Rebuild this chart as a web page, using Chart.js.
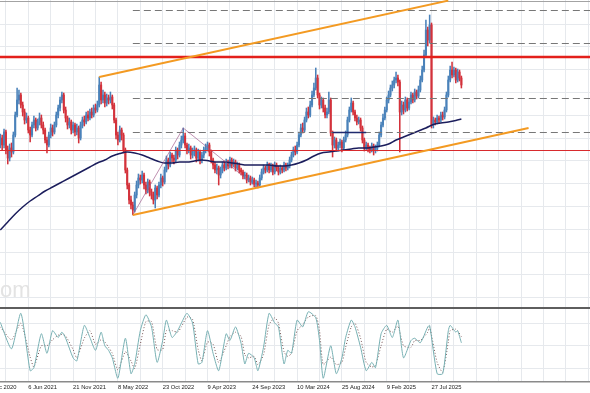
<!DOCTYPE html>
<html>
<head>
<meta charset="utf-8">
<script src="https://cdn.jsdelivr.net/npm/chart.js@4.4.1/dist/chart.umd.min.js"></script>
<style>
  html, body { margin: 0; padding: 0; background: #fff; }
  #wrap { position: relative; width: 590px; height: 393px; overflow: hidden; }
  canvas { position: absolute; left: 0; }
  #priceChart { top: 0; }
  #oscChart { top: 305px; }
</style>
</head>
<body>
<div id="wrap">
  <canvas id="priceChart" width="590" height="308"></canvas>
  <canvas id="oscChart" width="590" height="88"></canvas>
</div>
<script>
// weekly candles, week 0 = first candle, one label every 24 weeks
const dateLabels = ['20 Dec 2020', '6 Jun 2021', '21 Nov 2021', '8 May 2022', '23 Oct 2022', '9 Apr 2023',
   '24 Sep 2023', '10 Mar 2024', '25 Aug 2024', '9 Feb 2025', '27 Jul 2025'];
const firstLabelWeek = -9;

const opens = [
   165,170,163,176,158,150,160,156,173,193, 208,213,203,196,188,190,178,173,183,188,
   180,186,190,183,178,168,163,173,180,176, 183,193,200,208,213,198,190,183,186,178,
   183,176,180,170,183,188,186,193,190,196, 193,200,198,203,223,208,213,205,210,208,
   211,203,188,173,168,178,173,158,138,123, 108,103,98,113,123,130,128,133,123,118,
   126,116,113,108,120,113,123,130,126,138, 148,143,153,150,148,158,153,163,168,172,
   163,158,160,153,156,158,150,156,148,153, 158,160,163,156,148,143,138,140,133,138,
   143,140,146,142,148,143,146,140,143,138, 136,132,133,128,130,126,128,124,125,123,
   130,136,140,138,143,138,142,136,143,140, 136,140,138,143,140,142,148,153,158,156,
   163,173,180,178,188,196,193,203,213,220, 230,213,203,208,200,193,196,208,175,163,
   168,160,163,166,160,168,173,188,198,205, 196,190,186,188,180,168,160,163,160,158,
   162,158,160,163,173,183,190,198,208,213, 220,223,228,230,226,196,203,198,208,200,
   206,213,208,216,212,218,228,238,253,278, 268,283,183,188,186,190,188,193,191,198,
   213,228,238,233,238,228,236,230
];
const highs = [
   174,173,179,178,162,164,165,176,196,220, 218,215,206,199,195,192,181,186,192,190,
   189,195,193,186,180,171,176,184,183,186, 196,203,211,216,215,201,192,190,188,186,
   185,184,182,186,191,192,196,197,199,200, 203,204,207,231,226,218,216,214,213,216,
   213,205,190,176,182,180,175,160,140,125, 112,106,116,127,134,133,137,135,126,129,
   128,119,116,123,122,126,134,132,141,152, 150,156,155,153,161,160,166,172,180,175,
   165,164,162,160,162,160,159,158,156,161, 164,166,165,158,150,146,144,142,141,146,
   147,149,148,151,150,149,148,146,145,140, 138,136,135,133,132,131,130,128,127,133,
   139,143,142,146,145,145,144,146,145,142, 143,142,146,145,145,151,156,161,162,166,
   176,184,185,191,200,201,207,217,225,240, 233,215,211,210,203,200,216,210,177,171,
   170,166,169,168,171,177,191,201,210,207, 198,193,191,190,182,170,166,165,162,165,
   164,163,166,176,186,194,201,211,217,223, 227,231,236,233,228,207,206,211,210,209,
   216,215,219,218,222,232,242,258,288,281, 293,285,191,190,193,192,196,196,201,216,
   232,242,246,241,240,239,238,232
];
const lows = [
   160,158,160,154,144,147,151,154,171,191, 204,200,192,184,185,175,166,171,180,177,
   178,183,180,174,165,155,161,170,172,174, 181,190,197,205,195,186,179,180,174,175,
   172,173,165,168,180,182,184,187,188,190, 191,195,196,201,204,205,201,202,204,205,
   199,185,169,163,166,168,155,135,119,104, 99,93,96,110,120,124,125,119,114,115,
   112,109,104,100,109,111,120,122,124,136, 139,141,146,144,146,149,151,160,165,160,
   154,155,149,150,152,146,147,144,145,150, 155,157,152,145,139,135,134,123,130,135,
   137,138,139,140,140,141,137,138,135,133, 129,129,125,126,123,124,121,121,120,121,
   128,134,135,136,135,136,133,134,137,133, 134,135,136,137,138,140,146,151,153,154,
   161,171,175,176,186,190,191,201,211,218, 210,199,200,196,190,190,194,172,151,160,
   157,157,160,156,158,166,171,186,196,193, 187,183,184,177,165,157,158,156,155,156,
   153,155,157,161,171,181,188,196,205,211, 217,220,225,222,156,193,194,196,197,198,
   204,205,206,209,210,216,226,236,251,262, 265,180,180,183,184,185,186,188,189,196,
   211,226,230,231,225,226,227,220
];
const closes = [
   170,163,176,158,150,160,156,173,193,208, 213,203,196,188,190,178,173,183,188,180,
   186,190,183,178,168,163,173,180,176,183, 193,200,208,213,198,190,183,186,178,183,
   176,180,170,183,188,186,193,190,196,193, 200,198,203,223,208,213,205,210,208,211,
   203,188,173,168,178,173,158,138,123,108, 103,98,113,123,130,128,133,123,118,126,
   116,113,108,120,113,123,130,126,138,148, 143,153,150,148,158,153,163,168,172,163,
   158,160,153,156,158,150,156,148,153,158, 160,163,156,148,143,138,140,133,138,143,
   140,146,142,148,143,146,140,143,138,136, 132,133,128,130,126,128,124,125,123,130,
   136,140,138,143,138,142,136,143,140,136, 140,138,143,140,142,148,153,158,156,163,
   173,180,178,188,196,193,203,213,220,230, 213,203,208,200,193,196,208,175,163,168,
   160,163,166,160,168,173,188,198,205,196, 190,186,188,180,168,160,163,160,158,162,
   158,160,163,173,183,190,198,208,213,220, 223,228,230,226,196,203,198,208,200,206,
   213,208,216,212,218,228,238,253,278,268, 283,183,188,186,190,188,193,191,198,213,
   228,238,233,238,228,236,230,223
];

// moving average
const maWeeks = [0,4,8,12,16,20,24,28,32,36,40,44,48,52,56,60,64,68,72,76,80,84,88,92,96,100,
   104,108,112,116,120,124,128,132,136,140,144,148,152,156,160,164,168,172,176,180,184,188,192,
   196,200,204,208,212,216,220,224,228,232,236,240,244,247];
const maValues = [78,86,94,101,107,112,117,121,125,129,133,137,141,145,148,152,154.5,156,155,153,
   150,147,145,145,146,146,147,148,147,146,146,145,144,143,143,143,143,142,142,143,145,148,152,
   155,156,157,158,159,160,160,161,162,164,168,171,174,177,180,183.5,185,186,187.5,189];

// oscillator (%K solid, %D dotted)
const oscWeeks = [0,6,11,16,18,22,25,28,31,33,35,39,41,45,48,51,54,56,58,60,63,67,70,72,75,78,81,
   84,87,89,92,95,97,100,103,106,108,111,114,117,121,123,126,129,131,133,136,138,141,144,147,149,
   152,154,156,159,162,165,169,171,173,177,180,183,185,188,190,193,196,199,201,204,207,210,213,
   216,220,222,225,229,230,234,237,240,241,244,245,247];
const oscK = [81,46,93,17,21,66,40,70,61,68,60,34,30,77,61,44,68,50,44,34,7,60,13,26,70,91,75,
   28,57,84,61,70,80,93,80,26,28,70,40,17,66,57,75,53,26,40,34,17,48,93,80,75,
   26,44,40,84,75,95,87,57,7,50,13,34,61,84,75,48,17,28,21,66,77,61,84,
   34,57,60,54,75,77,13,13,70,77,68,70,54];
const oscD = [75,58,80,35,22,50,50,58,64,65,63,45,34,60,70,52,58,55,48,40,18,42,30,20,52,82,82,
   45,45,70,70,68,75,88,85,45,30,55,52,28,50,62,68,62,38,34,36,25,38,78,87,80,
   42,36,40,70,78,88,90,70,25,35,25,28,48,75,80,60,28,22,24,50,72,68,76,
   50,48,57,57,68,75,28,15,55,70,72,70,62];

// drawn levels and trend lines (week, value)
const dashedLevels = [297.5, 264.5, 209.5, 175.5];
const dashedFromWeek = 71;
const redThickLevel = 251;
const redThinLevel = 157.5;
const channelUpper = [[53, 231], [240, 307.5]];
const channelLower = [[71, 93], [283, 180]];
const patternLine = [[71, 93], [98, 180], [138, 120]];
const necklineSeg = [[178, 175.5], [196, 175.5]];

const xMin = -0.16, xMax = 315.9;
const gridColor = '#e6e9ed';
const upColor = '#4a82ba', downColor = '#d3323b';
const orange = '#f39a22';

const candleColor = ctx => closes[ctx.dataIndex] >= opens[ctx.dataIndex] ? upColor : downColor;
const weeks = closes.map((_, i) => i);
const pts = arr => arr.map(p => ({ x: p[0], y: p[1] }));
const levelLine = (v, from) => [{ x: from, y: v }, { x: xMax + 1, y: v }];

function weekTicks(axis) {
   const t = [];
   for (let w = firstLabelWeek; w <= xMax; w += 12) t.push({ value: w });
   axis.ticks = t;
}
// labels are left-aligned on their tick, keep the plot full width anyway
function noPadding(axis) {
   axis.paddingLeft = 0;
   axis.paddingRight = 0;
}
function weekLabel(v) {
   const k = (v - firstLabelWeek) / 24;
   return Number.isInteger(k) && k < dateLabels.length ? dateLabels[k] : '';
}

const lineBase = { type: 'line', pointRadius: 0, fill: false, tension: 0 };

const watermark = {
   id: 'watermark',
   beforeDatasetsDraw(chart) {
      const c = chart.ctx;
      c.save();
      c.font = '22px "Liberation Sans", Arial, sans-serif';
      c.fillStyle = '#e3e3e3';
      c.textBaseline = 'alphabetic';
      c.fillText('om', 0, 297);
      c.restore();
   }
};

const datasets = [];
dashedLevels.forEach(v => datasets.push(Object.assign({}, lineBase, {
   data: levelLine(v, dashedFromWeek), borderColor: '#777', borderWidth: 1, borderDash: [7, 4], order: 3
})));
datasets.push(Object.assign({}, lineBase, { data: levelLine(redThickLevel, xMin - 1), borderColor: '#e3201b', borderWidth: 2.5, order: 2 }));
datasets.push(Object.assign({}, lineBase, { data: levelLine(redThinLevel, xMin - 1), borderColor: '#d82a2d', borderWidth: 1, order: 2 }));
datasets.push(Object.assign({}, lineBase, { data: pts(channelUpper), borderColor: orange, borderWidth: 1.8, order: 1 }));
datasets.push(Object.assign({}, lineBase, { data: pts(channelLower), borderColor: orange, borderWidth: 1.8, order: 1 }));
datasets.push(Object.assign({}, lineBase, { data: pts(patternLine), borderColor: 'rgba(160, 90, 140, 0.85)', borderWidth: 0.8, order: 2 }));
datasets.push(Object.assign({}, lineBase, { data: pts(necklineSeg), borderColor: '#1f2a6e', borderWidth: 1.5, order: 2 }));
datasets.push(Object.assign({}, lineBase, {
   data: maWeeks.map((w, i) => ({ x: w, y: maValues[i] })), borderColor: '#1b1d5c', borderWidth: 1.5,
   cubicInterpolationMode: 'monotone', order: 4
}));
datasets.push({
   type: 'bar', data: weeks.map(i => ({ x: i, y: [lows[i], highs[i]] })),
   backgroundColor: candleColor, barThickness: 0.9, grouped: false, borderWidth: 0, order: 10
});
datasets.push({
   type: 'bar', data: weeks.map(i => ({ x: i, y: [opens[i], closes[i]] })),
   backgroundColor: candleColor, barThickness: 1.4, minBarLength: 1, grouped: false, borderWidth: 0, order: 9
});

new Chart(document.getElementById('priceChart'), {
   type: 'bar',
   data: { datasets: datasets },
   plugins: [watermark],
   options: {
      responsive: false,
      animation: false,
      events: [],
      layout: { padding: 0 },
      plugins: { legend: { display: false }, tooltip: { enabled: false } },
      scales: {
         x: {
            type: 'linear', min: xMin, max: xMax, offset: false,
            grid: { color: gridColor, drawTicks: false, offset: false },
            border: { display: false },
            ticks: { display: false },
            afterBuildTicks: weekTicks,
            afterFit: noPadding
         },
         y: {
            min: 0, max: 308,
            grid: { color: ctx => ctx.tick.value > 300 ? '#a3a3a3' : gridColor, drawTicks: false },
            border: { display: false },
            ticks: { display: false },
            afterBuildTicks: axis => {
               const t = [];
               for (let v = 306.7; v > 0; v -= 22.8) t.push({ value: v });
               axis.ticks = t;
            }
         }
      }
   }
});

new Chart(document.getElementById('oscChart'), {
   type: 'line',
   data: {
      datasets: [
         {
            data: oscWeeks.map((w, i) => ({ x: w, y: oscK[i] })),
            borderColor: '#77b0b3', borderWidth: 1, pointRadius: 0, tension: 0.2
         },
         {
            data: oscWeeks.map((w, i) => ({ x: w, y: oscD[i] })),
            borderColor: '#7a5656', borderWidth: 1, borderDash: [1, 2], pointRadius: 0, tension: 0.2
         }
      ]
   },
   options: {
      responsive: false,
      animation: false,
      events: [],
      layout: { padding: { top: 3, left: 0, right: 0, bottom: 0 } },
      plugins: { legend: { display: false }, tooltip: { enabled: false } },
      scales: {
         x: {
            type: 'linear', min: xMin, max: xMax, offset: false,
            grid: { color: gridColor, drawTicks: false },
            border: { display: true, color: '#8a8a8a', width: 1.5 },
            ticks: {
               align: 'start', autoSkip: false, maxRotation: 0, minRotation: 0, padding: 2,
               color: '#222', font: { family: 'Liberation Sans', size: 5.8 },
               callback: weekLabel
            },
            afterBuildTicks: weekTicks,
            afterFit: noPadding
         },
         y: {
            min: 2, max: 100,
            grid: {
               color: ctx => ctx.tick.value === 100 ? '#5e5e5e' : gridColor,
               lineWidth: ctx => ctx.tick.value === 100 ? 2 : 1,
               drawTicks: false
            },
            border: { display: false },
            ticks: { display: false },
            afterBuildTicks: axis => { axis.ticks = [20, 50, 80, 100].map(v => ({ value: v })); }
         }
      }
   }
});
</script>
</body>
</html>
